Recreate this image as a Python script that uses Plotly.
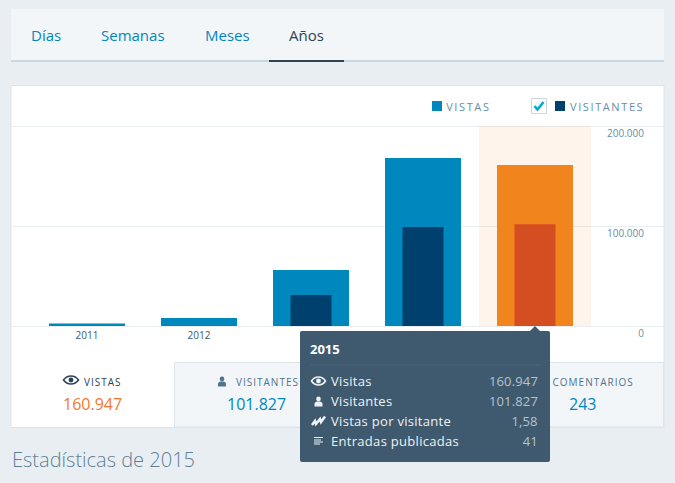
import plotly.graph_objects as go

# Yearly traffic
years = [2011, 2012, 2013, 2014, 2015]
views = [2500, 8000, 56000, 168000, 160947]
visitors = [None, None, 31000, 99000, 101827]
selected_year = [None, None, None, None, 200000]

view_colors = ["#0087be", "#0087be", "#0087be", "#0087be", "#f2841e"]
visitor_colors = ["#00406e", "#00406e", "#00406e", "#00406e", "#d54e21"]

y_ticks = [0, 100000, 200000]
y_tick_text = ["0", "100.000", "200.000"]
x_tick_text = ["2011", "2012", "2013", "2014", "2015"]

tabs = ["Días", "Semanas", "Meses", "Años"]
legend_labels = ["VISTAS", "VISITANTES"]
summary_labels = ["VISTAS", "VISITANTES", "COMENTARIOS"]
summary_values = ["160.947", "101.827", "243"]
detail_title = "2015"
detail_labels = ["Visitas", "Visitantes", "Vistas por visitante", "Entradas publicadas"]
detail_values = ["160.947", "101.827", "1,58", "41"]
heading = "Estadísticas de 2015"

W, H = 675, 483
# plot box; the axis pads past both ends so the end ticks keep their labels
LEFT, RIGHT, TOP, BASE = 11, 664, 121, 345
ZERO_PX = 326
UNITS_PER_PX = 1000
PAGE = "#e9eef2"
PANEL = "#f3f6f9"
EDGE = "#dce5ec"
TIP = "#3f5a6f"


def px(x):
    return (x - LEFT) / (RIGHT - LEFT)


def py(y):
    return (BASE - y) / (BASE - TOP)


def box(x0, y0, x1, y1, fill, layer="below", line=None):
    return dict(type="rect", xref="paper", yref="paper", x0=px(x0), x1=px(x1), y0=py(y0), y1=py(y1),
                fillcolor=fill, layer=layer, line=dict(color=line or fill, width=1 if line else 0))


def path(points, fill=None, stroke=None, width=1, close=True, layer="above"):
    d = ""
    for op, *coords in points:
        d += op
        d += " ".join(f"{px(coords[i]):.5f},{py(coords[i + 1]):.5f}" for i in range(0, len(coords), 2)) + " "
    if close:
        d += "Z"
    return dict(type="path", xref="paper", yref="paper", path=d, layer=layer,
                fillcolor=fill if fill else "rgba(0,0,0,0)",
                line=dict(color=stroke if stroke else "rgba(0,0,0,0)", width=width if stroke else 0))


def dot(cx, cy, r, fill, layer="above"):
    return dict(type="circle", xref="paper", yref="paper", layer=layer, fillcolor=fill, line=dict(width=0),
                x0=px(cx - r), x1=px(cx + r), y0=py(cy - r), y1=py(cy + r))


def eye(cx, cy, w, h, color):
    ring = path([("M", cx - w, cy), ("C", cx - w / 2, cy - h * 1.25, cx + w / 2, cy - h * 1.25, cx + w, cy),
                 ("C", cx + w / 2, cy + h * 1.25, cx - w / 2, cy + h * 1.25, cx - w, cy)],
                stroke=color, width=1.6)
    return [ring, dot(cx, cy, h * 0.58, color)]


def person(cx, cy, color):
    body = path([("M", cx - 4, cy + 5), ("L", cx - 4, cy + 2.5), ("C", cx - 4, cy + 0.5, cx - 2, cy, cx, cy),
                 ("C", cx + 2, cy, cx + 4, cy + 0.5, cx + 4, cy + 2.5), ("L", cx + 4, cy + 5)], fill=color)
    return [body, dot(cx, cy - 2.6, 2.3, color)]


def text(x, y, s, size, color, anchor="left", weight=None, tracking=0):
    # `name` carries the letter spacing applied once the page has drawn
    return dict(xref="paper", yref="paper", x=px(x), y=py(y), text=s, showarrow=False, xanchor=anchor,
                yanchor="middle", borderpad=0, name=str(tracking),
                font=dict(size=size, color=color, family="Open Sans", weight=weight))


fig = go.Figure()
fig.add_bar(x=years, y=selected_year, width=1.0, marker=dict(color="rgba(242,132,30,0.09)", line_width=0),
            hoverinfo="skip")
fig.add_bar(x=years, y=views, width=76 / 112, marker=dict(color=view_colors, line_width=0), hoverinfo="skip")
fig.add_bar(x=years, y=visitors, width=41 / 112, marker=dict(color=visitor_colors, line_width=0), hoverinfo="skip")

shapes = [
    # tab strip
    box(11, 9, 664, 60, PANEL),
    box(11, 60, 664, 62, "#c8d7e1"),
    box(269, 60, 344, 62, "#2e4453"),
    # chart card
    box(11, 85.5, 664, 427.5, "#ffffff", line=EDGE),
    # summary strip
    box(174.5, 362.5, 663.5, 427, PANEL, line=EDGE),
    # legend swatches and check box
    box(432, 101, 442, 111, "#0087be", layer="above"),
    box(555, 101, 565, 111, "#00406e", layer="above"),
    box(531.5, 98.5, 546.5, 113.5, "#ffffff", layer="above", line="#c8d7e1"),
    path([("M", 534.5, 106), ("L", 537.5, 109.5), ("L", 543.5, 102)], stroke="#00aadc", width=2.6, close=False),
    # detail panel
    path([("M", 302, 331), ("L", 530, 331), ("L", 535, 326), ("L", 540, 331), ("L", 548, 331),
          ("Q", 550, 331, 550, 333), ("L", 550, 460), ("Q", 550, 462, 548, 462), ("L", 302, 462),
          ("Q", 300, 462, 300, 460), ("L", 300, 333), ("Q", 300, 331, 302, 331)], fill=TIP),
    box(310, 364.5, 540, 365.5, "#4c677c", layer="above"),
]
shapes += eye(71, 380, 7.5, 4.2, "#2e4453")
shapes += person(222, 381.5, "#4f748e")
shapes += eye(318.5, 381, 7, 4.2, "#eef2f5")
shapes += person(318.5, 401.5, "#eef2f5")
shapes.append(path([("M", 312, 425), ("L", 315, 421), ("L", 316, 424), ("L", 320, 419), ("L", 321, 422), ("L", 325, 416.5)],
                   stroke="#eef2f5", width=2.5, close=False))
shapes += [box(314, y, x, y + 1, "#eef2f5", layer="above")
           for y, x in [(437, 323), (439.5, 321), (441.5, 323), (443.5, 320)]]

annotations = []
for label, x, color in zip(tabs, [30, 100, 204, 288], ["#0087be", "#0087be", "#0087be", "#2e4453"]):
    annotations.append(text(x, 35, label, 15, color))
annotations += [
    text(468.5, 106.5, legend_labels[0], 11, "#668eaa", "center", tracking=1.6),
    text(607, 106.5, legend_labels[1], 11, "#668eaa", "center", tracking=1.6),
    text(103, 382, summary_labels[0], 10, "#2e4453", "center", tracking=1),
    text(267, 382, summary_labels[1], 10, "#4f748e", "center", tracking=1),
    text(593, 382, summary_labels[2], 10, "#4f748e", "center", tracking=1),
    text(92.5, 404, summary_values[0], 16, "#f2792b", "center"),
    text(256, 404, summary_values[1], 16, "#0087be", "center"),
    text(582, 404, summary_values[2], 16, "#0087be", "center"),
    text(11, 459.5, heading, 20, "#5f7f97", weight=300),
    text(309, 349, detail_title, 13, "#ffffff", weight=700),
]
for i, (label, value) in enumerate(zip(detail_labels, detail_values)):
    row = 380.5 + 20 * i
    annotations.append(text(329.5, row, label, 13, "#eef2f5", tracking=0.3))
    annotations.append(text(539, row, value, 13, "#b4c3cf", "right", tracking=0.15))

fig.update_layout(
    width=W, height=H, autosize=False,
    margin=dict(l=LEFT, r=W - RIGHT, t=TOP, b=H - BASE, pad=0),
    paper_bgcolor=PAGE, plot_bgcolor="rgba(0,0,0,0)",
    barmode="overlay", showlegend=False, hovermode=False,
    shapes=shapes, annotations=annotations,
    font=dict(family="Open Sans"),
    xaxis=dict(range=[2011 - 76 / 112, 2011 + 577 / 112], tickmode="array", tickvals=years[:2], ticktext=x_tick_text[:2],
               showgrid=False, zeroline=False, showline=False, ticks="", ticklabelposition="inside",
               ticklabelstandoff=1, tickfont=dict(size=10, color="#3d596d")),
    yaxis=dict(range=[(ZERO_PX - BASE) * UNITS_PER_PX, (ZERO_PX - TOP) * UNITS_PER_PX], tickmode="array",
               tickvals=y_ticks, ticktext=y_tick_text, side="right",
               ticklabelposition="inside", ticklabelshift=7, ticklabelstandoff=17,
               showgrid=True, gridcolor="#e9eef2", gridwidth=1, zeroline=False, showline=False, ticks="",
               tickfont=dict(size=10, color="#668eaa")),
)

# Tracked labels keep their anchor edge once the spacing widens them
tracking = """
var gd = document.getElementById('{plot_id}');
gd.layout.annotations.forEach(function (a, i) {
  var spacing = parseFloat(a.name);
  if (!spacing) return;
  var t = document.querySelector('.annotation[data-index="' + i + '"] .annotation-text');
  var before = t.getComputedTextLength();
  t.style.letterSpacing = spacing + 'px';
  var grown = t.getComputedTextLength() - before;
  var shift = a.xanchor === 'left' ? grown / 2 : a.xanchor === 'right' ? -grown / 2 : 0;
  t.setAttribute('x', parseFloat(t.getAttribute('x')) + shift);
});
"""
fig.write_html("out.html", post_script=tracking)
